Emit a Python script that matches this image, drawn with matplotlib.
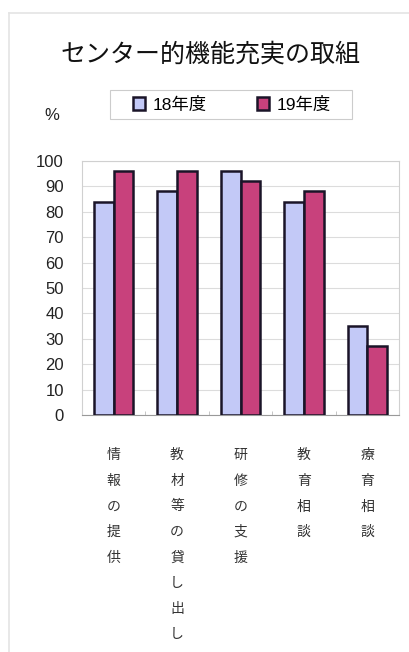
import matplotlib
matplotlib.use('Agg')
import matplotlib.pyplot as plt
import numpy as np

plt.rcParams['font.family'] = ['Noto Sans CJK JP', 'DejaVu Sans']

categories = ['情報の提供', '教材等の貸し出し', '研修の支援', '教育相談', '療育相談']
vals_18 = [84, 88, 96, 84, 35]
vals_19 = [96, 96, 92, 88, 27]
series_names = ['18年度', '19年度']
yticks = [0, 10, 20, 30, 40, 50, 60, 70, 80, 90, 100]

fig = plt.figure(figsize=(4.09, 6.52), dpi=100)
fig.patch.set_facecolor('white')

# faint page border
fig.add_artist(plt.Line2D([9/409, 9/409], [0, 1-13/652], transform=fig.transFigure, color='#e4e4e4', lw=1.2))
fig.add_artist(plt.Line2D([9/409, 1], [1-13/652, 1-13/652], transform=fig.transFigure, color='#e4e4e4', lw=1.2))

ax = fig.add_axes([82/409, 1-415/652, 317/409, 254/652])

x = np.arange(len(categories))
w = 0.31
ax.bar(x - w/2, vals_18, w, color='#c3c9f7', edgecolor='#1a1428', linewidth=1.8, label=series_names[0], zorder=3)
ax.bar(x + w/2, vals_19, w, color='#c8417c', edgecolor='#1a1428', linewidth=1.8, label=series_names[1], zorder=3)

ax.set_xlim(-0.5, len(categories) - 0.5)
ax.set_ylim(0, 100)
ax.set_yticks(yticks)
ax.yaxis.grid(True, color='#dcdcdc', linewidth=0.8, zorder=0)
ax.tick_params(axis='y', length=0, pad=13)
for t in ax.get_yticklabels():
    t.set_family(['Liberation Sans', 'DejaVu Sans'])
    t.set_fontsize(12)
    t.set_color('#222222')

ax.set_xticks(x)
ax.set_xticklabels(['\n'.join(c) for c in categories], fontsize=10, color='#333333', linespacing=2.05, va='top')
ax.tick_params(axis='x', length=0, pad=24)
ax.set_xticks(np.arange(0.5, len(categories) - 0.5), minor=True)
ax.tick_params(axis='x', which='minor', length=3, color='#bbbbbb', direction='in')

for s in ['top', 'right', 'left']:
    ax.spines[s].set_color('#d0d0d0')
    ax.spines[s].set_linewidth(0.8)
ax.spines['bottom'].set_color('#999999')

fig.text(211/409, 1-55/652, 'センター的機能充実の取組', ha='center', va='center', fontsize=18, color='#111111')
fig.text(52/409, 1-115/652, '%', ha='center', va='center', fontsize=12, color='#222222',
         family=['Liberation Sans', 'DejaVu Sans'])

# legend box
fig.add_artist(plt.Rectangle((110/409, 1-119/652), 242/409, 29/652, transform=fig.transFigure,
                             facecolor='white', edgecolor='#cccccc', linewidth=0.8))
leg = fig.legend(loc='center', bbox_to_anchor=(232/409, 1-104.5/652), ncol=2, fontsize=12.5,
                 frameon=False, handlelength=0.7, handleheight=0.7, columnspacing=2.9,
                 handletextpad=0.45, borderpad=0)
for t in leg.get_texts():
    t.set_family(['Liberation Sans', 'Noto Sans CJK JP'])

fig.savefig('out.png', dpi=100)
